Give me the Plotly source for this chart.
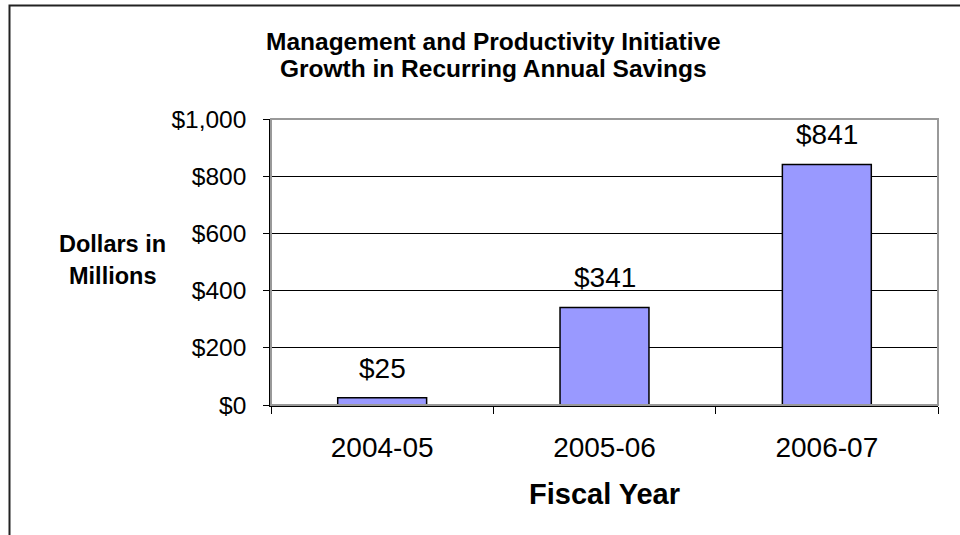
import plotly.graph_objects as go

# Recurring annual savings, $ millions
fiscal_years = ["2004-05", "2005-06", "2006-07"]
savings = [25, 341, 841]
y_ticks = [0, 200, 400, 600, 800, 1000]
y_tick_labels = ["$0", "$200", "$400", "$600", "$800", "$1,000"]

W, H = 960, 535
L, R, T, B = 271, 22, 119, 130
pw, ph = W - L - R, H - T - B

def px_x(x):
    return (x - L) / pw

def px_y(y):
    return (H - B - y) / ph

FONT = "Liberation Sans, Arial, sans-serif"

fig = go.Figure(
    go.Bar(
        x=fiscal_years,
        y=savings,
        width=0.4,
        marker=dict(color="#9999FF", line=dict(color="black", width=1.5)),
        hoverinfo="skip",
    )
)

annotations = [
    dict(
        x=fy, y=v, xref="x", yref="y",
        text=f"${v:,}", showarrow=False,
        yanchor="bottom", yshift=12,
        font=dict(family=FONT, size=28, color="black"),
    )
    for fy, v in zip(fiscal_years, savings)
]

def label(text, x, y, size):
    return dict(
        text=f"<b>{text}</b>",
        xref="paper", yref="paper", x=px_x(x), y=px_y(y),
        xanchor="center", yanchor="middle", showarrow=False,
        font=dict(family=FONT, size=size, color="black"),
    )

annotations += [
    label("Management and Productivity Initiative", 493, 41.5, 24.5),
    label("Growth in Recurring Annual Savings", 493, 68, 24.5),
    label("Dollars in", 112, 244, 23.5),
    label("Millions", 112, 276, 23.5),
    label("Fiscal Year", 604, 494, 29),
]

shapes = [
    # plot area frame
    dict(type="rect", xref="paper", yref="paper", x0=0, y0=0, x1=1, y1=1,
         line=dict(color="#999999", width=2), layer="above"),
    # outer chart border (left and top edges)
    dict(type="path", xref="paper", yref="paper",
         path=f"M {px_x(9.5)},{px_y(540)} L {px_x(9.5)},{px_y(5.5)} L {px_x(965)},{px_y(5.5)}",
         line=dict(color="#222222", width=2)),
]

fig.update_layout(
    width=W, height=H,
    margin=dict(l=L, r=R, t=T, b=B),
    paper_bgcolor="white", plot_bgcolor="white",
    showlegend=False,
    annotations=annotations,
    shapes=shapes,
    xaxis=dict(
        type="category",
        tickson="boundaries",
        ticks="outside", ticklen=7, tickwidth=1, tickcolor="black",
        showline=True, linecolor="black", linewidth=1.5,
        showgrid=False,
        tickfont=dict(family=FONT, size=28, color="black"),
        ticklabelstandoff=17,
        range=[-0.5, 2.5],
    ),
    yaxis=dict(
        range=[0, 1000],
        tickvals=y_ticks, ticktext=y_tick_labels,
        ticks="outside", ticklen=6, tickwidth=1, tickcolor="black",
        showline=True, linecolor="black", linewidth=1.5,
        showgrid=True, gridcolor="black", gridwidth=1,
        zeroline=False,
        tickfont=dict(family=FONT, size=24.5, color="black"),
        ticklabelstandoff=12,
    ),
)

fig.write_html("out.html")
